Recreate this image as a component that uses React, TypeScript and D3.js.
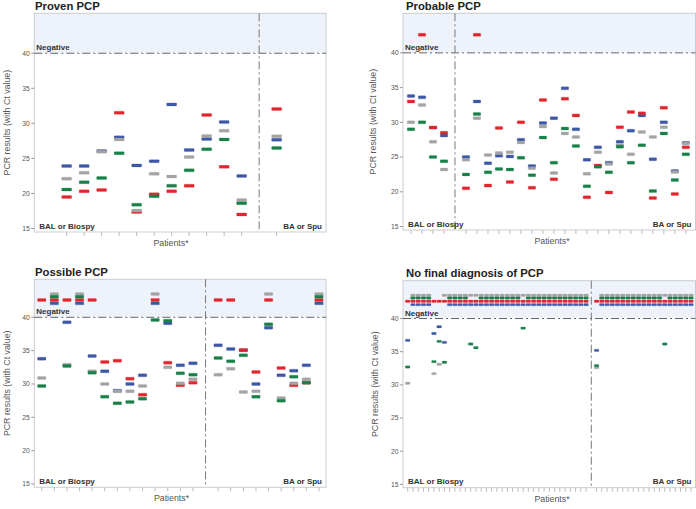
import React from "react";
import * as d3 from "d3";

// "neg" = PCR negative, drawn in the shaded band above Ct 40
const N = "neg";
type V = number | "neg";

// fixed band positions for negative results, one row per assay
const negRow = { blue: 42.1, red: 42.6, green: 43.1, gray: 43.5 };

const colors = {
  blue: "#3d58a6",
  red: "#e2262d",
  gray: "#a4a4a4",
  green: "#19804a",
};

const yTicks = [15, 20, 25, 30, 35, 40];

// Proven PCP (BAL 1-11, BA 13)
const provenSlots = [1, 2, 3, 4, 5, 6, 7, 8, 9, 10, 11, 13];
const provenBlue: V[] = [23.9, 23.9, 26.05, 28.0, 24.0, 24.6, 32.7, 26.2, 27.75, 30.2, 22.5, 27.65];
const provenRed: V[] = [19.5, 20.3, 20.5, 31.5, 17.35, 19.9, 20.3, 21.1, 31.2, 23.8, 17.0, 32.05];
const provenGray: V[] = [22.1, 22.95, 25.95, 27.7, 17.55, 22.8, 22.4, 25.2, 28.2, 28.95, 19.05, 28.15];
const provenGreen: V[] = [20.55, 21.6, 22.2, 25.75, 18.4, 19.6, 21.1, 23.3, 26.3, 27.7, 18.6, 26.5];

// Probable PCP (BAL 1-4, BA 6-26)
const probableSlots = [1, 2, 3, 4, 6, 7, 8, 9, 10, 11, 12, 13, 14, 15, 16, 17, 18, 19, 20, 21, 22, 23, 24, 25, 26];
const probableBlue: V[] = [33.8, 33.6, 29.25, 28.1, 25.0, 33.0, 24.1, 25.2, 25.1, 27.5, 23.7, 29.9, 30.6, 34.9, 29.0, 24.6, 26.4, 24.2, 27.2, 28.8, 31.0, 24.7, 30.0, 23.0, 27.05];
const probableRed: V[] = [33.0, N, 29.25, 28.5, 20.5, N, 20.9, 29.2, 21.4, 30.0, 20.6, 33.2, 21.8, 33.4, 31.0, 19.2, 23.8, 19.9, 29.3, 31.5, 31.3, 19.1, 32.1, 19.7, 26.4];
const probableGray: V[] = [30.0, 32.5, 27.2, 23.2, 24.6, 30.6, 25.3, 25.6, 25.7, 27.1, 23.4, 29.4, 22.7, 28.4, 27.9, 22.6, 25.7, 24.0, 26.7, 25.4, 28.6, 27.9, 29.3, 22.85, 27.0];
const probableGreen: V[] = [29.0, 30.0, 25.0, 24.4, 22.5, 31.2, 22.8, 23.3, 23.2, 24.9, 22.4, 27.8, 24.2, 29.1, 26.6, 20.8, 23.6, 22.8, 26.5, 24.2, 26.7, 20.1, 28.4, 21.7, 25.4];

// Possible PCP (BAL 1-13, BA 15-23)
const possibleSlots = [1, 2, 3, 4, 5, 6, 7, 8, 9, 10, 11, 12, 13, 15, 16, 17, 18, 19, 20, 21, 22, 23];
const possibleBlue: V[] = [33.8, N, 39.25, N, 34.2, 31.9, 29.0, 30.0, 31.3, N, 39.1, 32.8, 33.1, 35.8, 35.25, 35.05, 30.0, 38.45, 31.3, 32.0, 32.8, N];
const possibleRed: V[] = [N, N, N, N, N, 33.3, 33.5, 30.8, 28.4, N, 33.2, 29.8, 30.2, N, N, 35.1, 31.8, N, 32.4, 29.8, 30.2, N];
const possibleGray: V[] = [30.9, N, 32.9, N, 31.9, 30.0, 28.9, 28.9, 29.7, N, 32.5, 30.1, 30.7, 31.4, 32.3, 28.8, 28.9, N, 27.9, 30.1, 30.7, N];
const possibleGreen: V[] = [29.7, N, 32.7, N, 31.7, 28.1, 27.1, 27.3, 27.8, 39.6, 39.5, 31.6, 31.4, 33.9, 33.4, 34.3, 28.1, 38.95, 27.5, 31.1, 30.2, N];

// No final diagnosis of PCP (BAL 1-35, BA 37-55)
const noFinalSlots = [
  1, 2, 3, 4, 5, 6, 7, 8, 9, 10, 11, 12, 13, 14, 15, 16, 17, 18, 19, 20, 21, 22, 23, 24, 25, 26, 27, 28, 29, 30, 31, 32, 33, 34, 35,
  37, 38, 39, 40, 41, 42, 43, 44, 45, 46, 47, 48, 49, 50, 51, 52, 53, 54, 55,
];
const noFinalBlue: V[] = [
  36.7, N, N, N, N, 37.75, 38.75, 36.4, N, N, N, N, N, N, N, N, N, N, N, N, N, N, N, N, N, N, N, N, N, N, N, N, N, N, N,
  35.2, N, N, N, N, N, N, N, N, N, N, N, N, N, N, N, N, N, N,
];
const noFinalRed: V[] = [
  N, N, N, N, N, N, N, N, N, N, N, N, N, N, N, N, N, N, N, N, N, N, N, N, N, N, N, N, N, N, N, N, N, N, N,
  N, N, N, N, N, N, N, N, N, N, N, N, N, N, N, N, N, N, N,
];
const noFinalGray: V[] = [
  30.25, N, N, N, N, 31.7, 33.1, N, N, N, N, N, N, N, N, N, N, N, N, N, N, N, N, N, N, N, N, N, N, N, N, N, N, N, N,
  32.6, N, N, N, N, N, N, N, N, N, N, N, N, N, N, N, N, N, N,
];
const noFinalGreen: V[] = [
  32.7, N, N, N, N, 33.5, 36.55, 33.4, N, N, N, N, 36.15, 35.6, N, N, N, N, N, N, N, N, 38.55, N, N, N, N, N, N, N, N, N, N, N, N,
  32.9, N, N, N, N, N, N, N, N, N, N, N, N, 36.15, N, N, N, N, N,
];

const font = "'Liberation Sans', Arial, sans-serif";

const Panel = ({ title, slots, series, divider, box, xDomain, barW, barH, titleX, yTitleX, xTitleX }) => {
  const { x0, x1, y0, y1 } = box;
  const x = d3.scaleLinear().domain(xDomain).range([x0, x1]);
  const y = d3.scaleLinear().domain([14.5, 45.7]).range([y1, y0]);
  const y40 = y(40);
  const dash = "8,3,2,3";
  const order = ["blue", "red", "gray", "green"];

  return (
    <g fontFamily={font}>
      <text x={titleX} y={y0 - 3.5} fontSize={11.3} fontWeight="bold" fill="#222">
        {title}
      </text>
      {/* shaded negative band + frame */}
      <rect x={x0} y={y0} width={x1 - x0} height={y40 - y0} fill="#eef3fb" />
      <rect x={x0} y={y0} width={x1 - x0} height={y1 - y0} fill="none" stroke="#c9cdd3" strokeWidth={1} />
      {/* y axis */}
      {yTicks.map((t) => (
        <g key={t}>
          <line x1={x0 - 3} x2={x0} y1={y(t)} y2={y(t)} stroke="#999" />
          <text x={x0 - 4.5} y={y(t)} dy="0.35em" textAnchor="end" fontSize={6.8} fill="#555">
            {t}
          </text>
        </g>
      ))}
      <text
        transform={`translate(${yTitleX}, ${(y0 + y1) / 2}) rotate(-90)`}
        textAnchor="middle"
        fontSize={8.8}
        fill="#555"
      >
        PCR results (with Ct value)
      </text>
      {/* x ticks, one per patient */}
      {slots.map((s) => (
        <line key={s} x1={x(s)} x2={x(s)} y1={y1} y2={y1 + 4} stroke="#bbb" />
      ))}
      <text x={xTitleX} y={y1 + 14} textAnchor="middle" fontSize={8.8} fill="#555">
        Patients*
      </text>
      {/* reference lines */}
      <line x1={x0} x2={x1} y1={y40} y2={y40} stroke="#666" strokeWidth={1} strokeDasharray={dash} />
      <line x1={x(divider)} x2={x(divider)} y1={y0} y2={y1} stroke="#777" strokeWidth={1} strokeDasharray={dash} />
      <text x={x0 + 2} y={y40 - 3} fontSize={8} fontWeight="bold" fill="#333">
        Negative
      </text>
      <text x={x0 + 5} y={y1 - 3.5} fontSize={8} fontWeight="bold" fill="#333">
        BAL or Biospy
      </text>
      <text x={x1 - 4} y={y1 - 3.5} textAnchor="end" fontSize={8} fontWeight="bold" fill="#333">
        BA or Spu
      </text>
      {/* results */}
      {order.map((k) =>
        slots.map((s, i) => {
          const v = series[k][i];
          const val = v === N ? negRow[k] : v;
          return (
            <rect
              key={k + s}
              x={x(s) - barW / 2}
              y={y(val) - barH / 2}
              width={barW}
              height={barH}
              rx={0.6}
              fill={colors[k]}
              stroke={colors[k]}
              strokeOpacity={0.3}
              strokeWidth={0.8}
            />
          );
        })
      )}
    </g>
  );
};

export default function App() {
  return (
    <svg width={696} height={509} style={{ position: "absolute", left: 0, top: 0, background: "#fff" }}>
      <rect width={696} height={509} fill="#fff" />
      <Panel
        title="Proven PCP"
        slots={provenSlots}
        series={{ blue: provenBlue, red: provenRed, gray: provenGray, green: provenGreen }}
        divider={12}
        box={{ x0: 34.3, x1: 326, y0: 13.3, y1: 232 }}
        xDomain={[-0.85, 15.82]}
        barW={10}
        barH={3}
        titleX={35}
        yTitleX={9.5}
        xTitleX={171}
      />
      <Panel
        title="Probable PCP"
        slots={probableSlots}
        series={{ blue: probableBlue, red: probableRed, gray: probableGray, green: probableGreen }}
        divider={5}
        box={{ x0: 403, x1: 695.5, y0: 13.3, y1: 230 }}
        xDomain={[0.27, 26.88]}
        barW={7.5}
        barH={3}
        titleX={406}
        yTitleX={376}
        xTitleX={552}
      />
      <Panel
        title="Possible PCP"
        slots={possibleSlots}
        series={{ blue: possibleBlue, red: possibleRed, gray: possibleGray, green: possibleGreen }}
        divider={14}
        box={{ x0: 34.3, x1: 326, y0: 279.3, y1: 487.3 }}
        xDomain={[0.41, 23.56]}
        barW={8.5}
        barH={3}
        titleX={35}
        yTitleX={10}
        xTitleX={171.5}
      />
      <Panel
        title="No final diagnosis of PCP"
        slots={noFinalSlots}
        series={{ blue: noFinalBlue, red: noFinalRed, gray: noFinalGray, green: noFinalGreen }}
        divider={36}
        box={{ x0: 403, x1: 695.5, y0: 280.7, y1: 487.7 }}
        xDomain={[0.105, 55.86]}
        barW={4.6}
        barH={2.4}
        titleX={406}
        yTitleX={378}
        xTitleX={552}
      />
    </svg>
  );
}
